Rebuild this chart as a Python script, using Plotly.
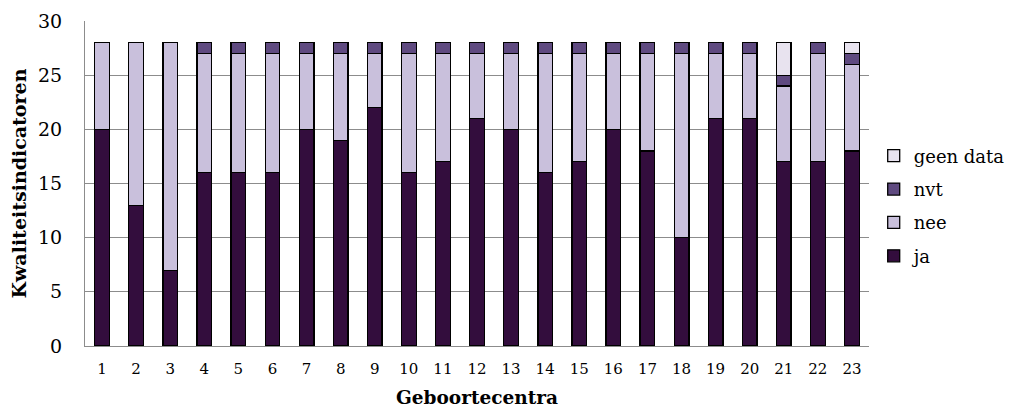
import plotly.graph_objects as go

centra = [str(i) for i in range(1, 24)]
ja = [20, 13, 7, 16, 16, 16, 20, 19, 22, 16, 17, 21, 20, 16, 17, 20, 18, 10, 21, 21, 17, 17, 18]
nee = [8, 15, 21, 11, 11, 11, 7, 8, 5, 11, 10, 6, 7, 11, 10, 7, 9, 17, 6, 6, 7, 10, 8]
nvt = [0, 0, 0, 1, 1, 1, 1, 1, 1, 1, 1, 1, 1, 1, 1, 1, 1, 1, 1, 1, 1, 1, 1]
geen_data = [0, 0, 0, 0, 0, 0, 0, 0, 0, 0, 0, 0, 0, 0, 0, 0, 0, 0, 0, 0, 3, 0, 1]

series = [
    ("ja", ja, "#330d3d"),
    ("nee", nee, "#c9c0dc"),
    ("nvt", nvt, "#5f4a80"),
    ("geen data", geen_data, "#e8e3ef"),
]

font_family = "DejaVu Serif, Liberation Serif, serif"

fig = go.Figure()
for i, (name, vals, col) in enumerate(series):
    fig.add_trace(go.Bar(
        x=centra, y=[v if v else None for v in vals], name=name,
        legendgroup=name, legendrank=len(series) - i,
        marker=dict(color=col, line=dict(color="black", width=1.3)),
    ))

fig.update_layout(
    barmode="stack",
    bargap=0.57,
    width=1014, height=401,
    margin=dict(l=77, r=129, t=13, b=63),
    paper_bgcolor="white", plot_bgcolor="white",
    font=dict(family=font_family, color="black"),
    legend=dict(
        traceorder="grouped",
        x=1.006, xanchor="left", y=0.431, yanchor="middle",
        font=dict(size=18, family=font_family),
        itemwidth=30, tracegroupgap=7,
    ),
    xaxis=dict(
        tickfont=dict(size=15),
        showline=True, linecolor="#8c8c8c", linewidth=1,
        ticks="", showgrid=False, automargin=False,
        ticklabelstandoff=9,
    ),
    yaxis=dict(
        range=[0, 30], dtick=5,
        tickfont=dict(size=19),
        showgrid=True, gridcolor="#8c8c8c", gridwidth=1,
        showline=True, linecolor="#8c8c8c", linewidth=1,
        ticks="", zeroline=False, automargin=False,
        ticklabelstandoff=18,
    ),
    annotations=[
        dict(text="<b>Geboortecentra</b>", xref="paper", yref="paper",
             x=0.5, y=0, xanchor="center", yanchor="middle", yshift=-51,
             showarrow=False, font=dict(size=18.5)),
        dict(text="<b>Kwaliteitsindicatoren</b>", xref="paper", yref="paper",
             x=0, y=0.5, xanchor="center", yanchor="middle", xshift=-67,
             textangle=-90, showarrow=False, font=dict(size=19)),
    ],
)

fig.write_html("out.html")
